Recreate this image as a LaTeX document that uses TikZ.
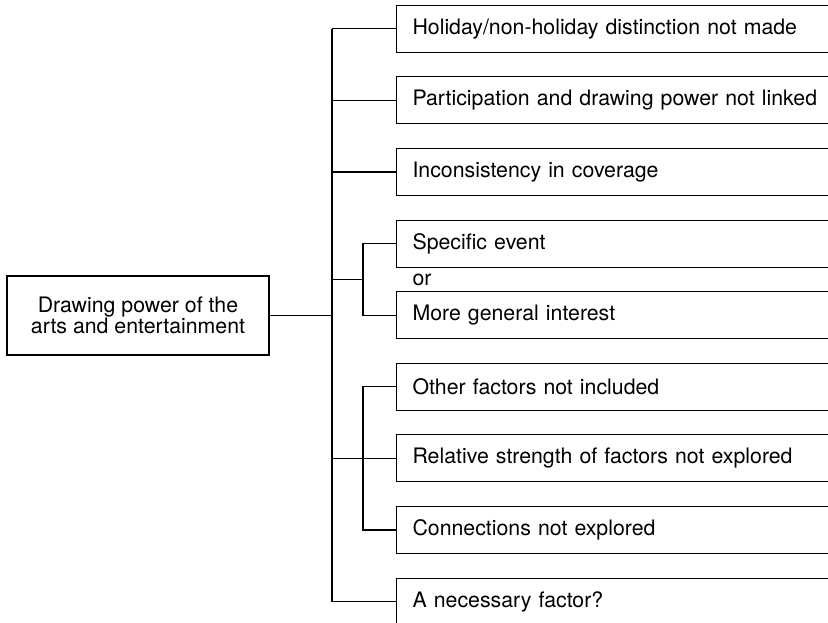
\documentclass[tikz,border=0pt]{standalone}
\usepackage{fontspec}
\setmainfont{TeX Gyre Heros}
\usetikzlibrary{calc}
\begin{document}
\begin{tikzpicture}[x=1pt,y=-1pt,
  line width=1.1pt,
  every node/.style={font=\fontsize{21.3}{17.5}\selectfont, text=black},
  item/.style={draw, rectangle, anchor=west, minimum height=47pt,
    text width=480pt, align=left, inner xsep=16pt, inner ysep=0pt},
  root/.style={draw, rectangle, minimum width=262pt, minimum height=79pt,
    align=center, inner sep=0pt}]
\useasboundingbox (0,0) rectangle (828,622);
\clip (0,0) rectangle (828,622);

% root box
\node[root] (m) at (138,315.5) {Drawing power of the\\arts and entertainment};

% right-hand boxes, open past the page edge
\node[item] (b1) at (396,28.8)  {Holiday/non-holiday distinction not made};
\node[item] (b2) at (396,100.4) {Participation and drawing power not linked};
\node[item] (b3) at (396,172.0) {Inconsistency in coverage};
\node[item] (b4) at (396,243.6) {Specific event};
\node[item] (b5) at (396,315.2) {More general interest};
\node[item] (b6) at (396,386.8) {Other factors not included};
\node[item] (b7) at (396,458.4) {Relative strength of factors not explored};
\node[item] (b8) at (396,530.0) {Connections not explored};
\node[item] (b9) at (396,601.6) {A necessary factor?};

\node[anchor=base west, inner sep=0pt] (or) at (412,285) {or};

% spine coordinates
\coordinate (st) at ($(b1.west)+(-64,0)$);
\coordinate (sb) at ($(b9.west)+(-64,0)$);
\coordinate (g1) at ($(b4.west)!0.5!(b5.west)+(-64,0)$);

% main spine and branches
\draw (st) -- (sb);
\draw (m.east) -- (m.east -| st);
\foreach \b in {b1,b2,b3,b7,b9} \draw (\b.west) -- ++(-64,0);

% grouped branches
\draw (g1) -- ++(31,0);
\draw (b4.west) -- ++(-33,0) |- (b5.west);
\draw (b6.west) -- ++(-33,0) |- (b8.west);
\end{tikzpicture}
\end{document}
